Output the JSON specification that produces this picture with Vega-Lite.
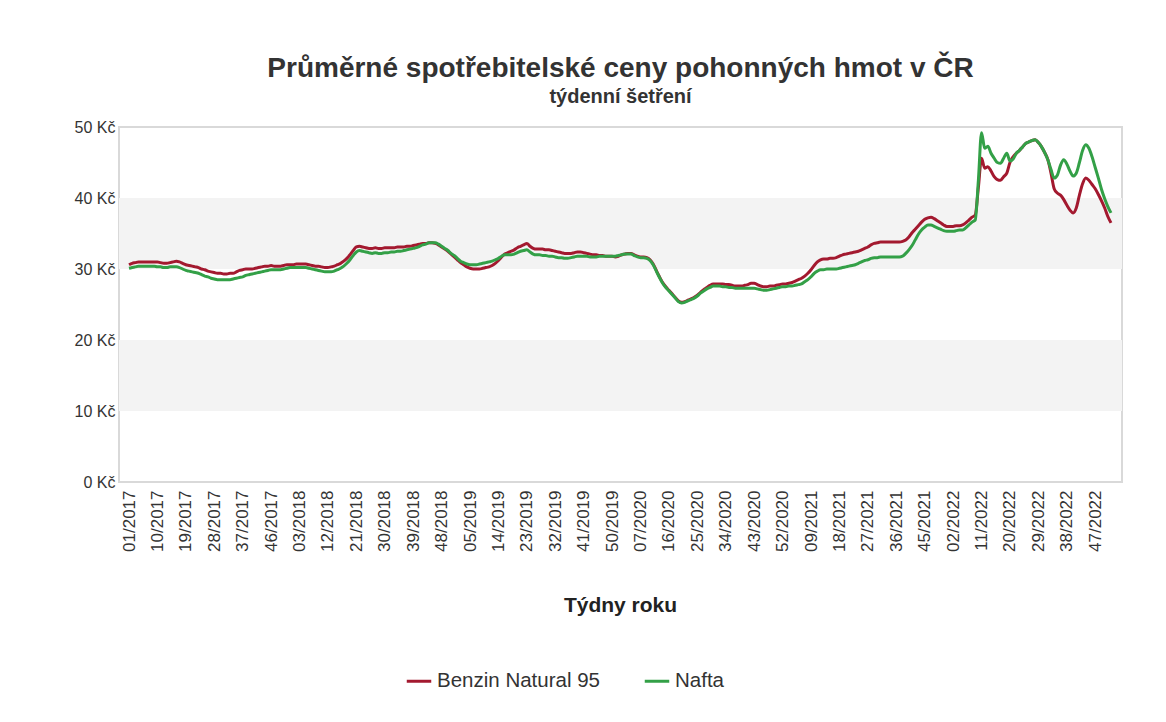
{
"$schema": "https://vega.github.io/schema/vega-lite/v6.json",
"width": 1003, "height": 355,
"autosize": {"type": "none"},
"padding": {"left": 119, "top": 127, "right": 44, "bottom": 240},
"background": "white",
"config": {"view": {"stroke": "#d9d9d9", "strokeWidth": 2}, "font": "Liberation Sans"},
"title": {"text": "Průměrné spotřebitelské ceny pohonných hmot v ČR", "subtitle": "týdenní šetření", "font": "Liberation Sans", "fontSize": 28, "fontWeight": "bold", "color": "#333333", "subtitleFont": "Liberation Sans", "subtitleFontSize": 20, "subtitleFontWeight": "bold", "subtitleColor": "#333333", "anchor": "middle", "offset": 12, "subtitlePadding": 4},
"layer": [
{"data": {"values": [{}]}, "mark": {"type": "rect", "color": "#f3f3f3"}, "encoding": {"y": {"datum": 10, "type": "quantitative", "scale": {"domain": [0, 50], "nice": false}, "axis": {"values": [0, 10, 20, 30, 40, 50], "labelExpr": "datum.value + ' Kč'", "title": null, "domain": false, "ticks": false, "gridColor": "#d9d9d9", "gridWidth": 2, "labelFontSize": 16, "labelColor": "#333333", "labelPadding": 4}}, "y2": {"datum": 20}}},
{"data": {"values": [{}]}, "mark": {"type": "rect", "color": "#f3f3f3"}, "encoding": {"y": {"datum": 30, "type": "quantitative", "scale": {"domain": [0, 50], "nice": false}, "axis": {"values": [0, 10, 20, 30, 40, 50], "labelExpr": "datum.value + ' Kč'", "title": null, "domain": false, "ticks": false, "gridColor": "#d9d9d9", "gridWidth": 2, "labelFontSize": 16, "labelColor": "#333333", "labelPadding": 4}}, "y2": {"datum": 40}}},
{"data": {"values": [
{"w":"01/2017","benzin":30.6,"nafta":30.1},{"w":"02/2017","benzin":30.8,"nafta":30.2},{"w":"03/2017","benzin":30.9,"nafta":30.3},{"w":"04/2017","benzin":31.0,"nafta":30.4},{"w":"05/2017","benzin":31.0,"nafta":30.4},{"w":"06/2017","benzin":31.0,"nafta":30.4},{"w":"07/2017","benzin":31.0,"nafta":30.4},{"w":"08/2017","benzin":31.0,"nafta":30.4},{"w":"09/2017","benzin":31.0,"nafta":30.4},{"w":"10/2017","benzin":31.0,"nafta":30.3},
{"w":"11/2017","benzin":30.9,"nafta":30.3},{"w":"12/2017","benzin":30.8,"nafta":30.2},{"w":"13/2017","benzin":30.8,"nafta":30.2},{"w":"14/2017","benzin":30.9,"nafta":30.3},{"w":"15/2017","benzin":31.0,"nafta":30.3},{"w":"16/2017","benzin":31.1,"nafta":30.3},{"w":"17/2017","benzin":31.0,"nafta":30.2},{"w":"18/2017","benzin":30.8,"nafta":30.0},{"w":"19/2017","benzin":30.6,"nafta":29.8},{"w":"20/2017","benzin":30.5,"nafta":29.7},
{"w":"21/2017","benzin":30.4,"nafta":29.6},{"w":"22/2017","benzin":30.3,"nafta":29.5},{"w":"23/2017","benzin":30.2,"nafta":29.4},{"w":"24/2017","benzin":30.0,"nafta":29.2},{"w":"25/2017","benzin":29.9,"nafta":29.0},{"w":"26/2017","benzin":29.7,"nafta":28.9},{"w":"27/2017","benzin":29.6,"nafta":28.7},{"w":"28/2017","benzin":29.5,"nafta":28.6},{"w":"29/2017","benzin":29.4,"nafta":28.5},{"w":"30/2017","benzin":29.4,"nafta":28.5},
{"w":"31/2017","benzin":29.3,"nafta":28.5},{"w":"32/2017","benzin":29.3,"nafta":28.5},{"w":"33/2017","benzin":29.4,"nafta":28.5},{"w":"34/2017","benzin":29.4,"nafta":28.6},{"w":"35/2017","benzin":29.6,"nafta":28.7},{"w":"36/2017","benzin":29.8,"nafta":28.8},{"w":"37/2017","benzin":29.9,"nafta":28.9},{"w":"38/2017","benzin":30.0,"nafta":29.1},{"w":"39/2017","benzin":30.0,"nafta":29.2},{"w":"40/2017","benzin":30.0,"nafta":29.3},
{"w":"41/2017","benzin":30.1,"nafta":29.4},{"w":"42/2017","benzin":30.2,"nafta":29.5},{"w":"43/2017","benzin":30.3,"nafta":29.6},{"w":"44/2017","benzin":30.4,"nafta":29.7},{"w":"45/2017","benzin":30.4,"nafta":29.8},{"w":"46/2017","benzin":30.5,"nafta":29.9},{"w":"47/2017","benzin":30.4,"nafta":29.9},{"w":"48/2017","benzin":30.4,"nafta":29.9},{"w":"49/2017","benzin":30.4,"nafta":29.9},{"w":"50/2017","benzin":30.5,"nafta":30.0},
{"w":"51/2017","benzin":30.6,"nafta":30.1},{"w":"52/2017","benzin":30.6,"nafta":30.2},
{"w":"01/2018","benzin":30.6,"nafta":30.2},{"w":"02/2018","benzin":30.7,"nafta":30.2},{"w":"03/2018","benzin":30.7,"nafta":30.2},{"w":"04/2018","benzin":30.7,"nafta":30.2},{"w":"05/2018","benzin":30.7,"nafta":30.2},{"w":"06/2018","benzin":30.6,"nafta":30.1},{"w":"07/2018","benzin":30.5,"nafta":30.0},{"w":"08/2018","benzin":30.4,"nafta":29.9},{"w":"09/2018","benzin":30.4,"nafta":29.8},{"w":"10/2018","benzin":30.3,"nafta":29.7},
{"w":"11/2018","benzin":30.2,"nafta":29.6},{"w":"12/2018","benzin":30.2,"nafta":29.6},{"w":"13/2018","benzin":30.3,"nafta":29.6},{"w":"14/2018","benzin":30.4,"nafta":29.7},{"w":"15/2018","benzin":30.6,"nafta":29.9},{"w":"16/2018","benzin":30.8,"nafta":30.1},{"w":"17/2018","benzin":31.1,"nafta":30.4},{"w":"18/2018","benzin":31.5,"nafta":30.8},{"w":"19/2018","benzin":32.0,"nafta":31.3},{"w":"20/2018","benzin":32.6,"nafta":31.9},
{"w":"21/2018","benzin":33.1,"nafta":32.4},{"w":"22/2018","benzin":33.2,"nafta":32.6},{"w":"23/2018","benzin":33.1,"nafta":32.5},{"w":"24/2018","benzin":33.0,"nafta":32.4},{"w":"25/2018","benzin":32.9,"nafta":32.3},{"w":"26/2018","benzin":32.9,"nafta":32.2},{"w":"27/2018","benzin":33.0,"nafta":32.3},{"w":"28/2018","benzin":32.9,"nafta":32.2},{"w":"29/2018","benzin":32.9,"nafta":32.2},{"w":"30/2018","benzin":33.0,"nafta":32.3},
{"w":"31/2018","benzin":33.0,"nafta":32.3},{"w":"32/2018","benzin":33.0,"nafta":32.4},{"w":"33/2018","benzin":33.0,"nafta":32.4},{"w":"34/2018","benzin":33.1,"nafta":32.5},{"w":"35/2018","benzin":33.1,"nafta":32.5},{"w":"36/2018","benzin":33.1,"nafta":32.6},{"w":"37/2018","benzin":33.2,"nafta":32.7},{"w":"38/2018","benzin":33.2,"nafta":32.8},{"w":"39/2018","benzin":33.3,"nafta":32.9},{"w":"40/2018","benzin":33.4,"nafta":33.0},
{"w":"41/2018","benzin":33.5,"nafta":33.2},{"w":"42/2018","benzin":33.6,"nafta":33.4},{"w":"43/2018","benzin":33.6,"nafta":33.5},{"w":"44/2018","benzin":33.7,"nafta":33.7},{"w":"45/2018","benzin":33.7,"nafta":33.7},{"w":"46/2018","benzin":33.6,"nafta":33.7},{"w":"47/2018","benzin":33.4,"nafta":33.5},{"w":"48/2018","benzin":33.1,"nafta":33.2},{"w":"49/2018","benzin":32.8,"nafta":32.9},{"w":"50/2018","benzin":32.5,"nafta":32.6},
{"w":"51/2018","benzin":32.1,"nafta":32.2},{"w":"52/2018","benzin":31.7,"nafta":31.9},
{"w":"01/2019","benzin":31.3,"nafta":31.5},{"w":"02/2019","benzin":30.9,"nafta":31.1},{"w":"03/2019","benzin":30.6,"nafta":30.9},{"w":"04/2019","benzin":30.3,"nafta":30.7},{"w":"05/2019","benzin":30.1,"nafta":30.6},{"w":"06/2019","benzin":30.0,"nafta":30.6},{"w":"07/2019","benzin":30.0,"nafta":30.6},{"w":"08/2019","benzin":30.0,"nafta":30.7},{"w":"09/2019","benzin":30.1,"nafta":30.8},{"w":"10/2019","benzin":30.2,"nafta":30.9},
{"w":"11/2019","benzin":30.3,"nafta":31.0},{"w":"12/2019","benzin":30.5,"nafta":31.1},{"w":"13/2019","benzin":30.8,"nafta":31.3},{"w":"14/2019","benzin":31.2,"nafta":31.5},{"w":"15/2019","benzin":31.7,"nafta":31.8},{"w":"16/2019","benzin":32.1,"nafta":32.0},{"w":"17/2019","benzin":32.3,"nafta":32.0},{"w":"18/2019","benzin":32.5,"nafta":32.0},{"w":"19/2019","benzin":32.7,"nafta":32.1},{"w":"20/2019","benzin":33.0,"nafta":32.3},
{"w":"21/2019","benzin":33.2,"nafta":32.5},{"w":"22/2019","benzin":33.4,"nafta":32.6},{"w":"23/2019","benzin":33.6,"nafta":32.7},{"w":"24/2019","benzin":33.2,"nafta":32.4},{"w":"25/2019","benzin":32.9,"nafta":32.1},{"w":"26/2019","benzin":32.8,"nafta":32.0},{"w":"27/2019","benzin":32.8,"nafta":32.0},{"w":"28/2019","benzin":32.8,"nafta":31.9},{"w":"29/2019","benzin":32.7,"nafta":31.9},{"w":"30/2019","benzin":32.7,"nafta":31.8},
{"w":"31/2019","benzin":32.6,"nafta":31.8},{"w":"32/2019","benzin":32.5,"nafta":31.7},{"w":"33/2019","benzin":32.4,"nafta":31.6},{"w":"34/2019","benzin":32.3,"nafta":31.6},{"w":"35/2019","benzin":32.2,"nafta":31.5},{"w":"36/2019","benzin":32.2,"nafta":31.5},{"w":"37/2019","benzin":32.2,"nafta":31.6},{"w":"38/2019","benzin":32.3,"nafta":31.7},{"w":"39/2019","benzin":32.4,"nafta":31.8},{"w":"40/2019","benzin":32.4,"nafta":31.8},
{"w":"41/2019","benzin":32.3,"nafta":31.8},{"w":"42/2019","benzin":32.2,"nafta":31.8},{"w":"43/2019","benzin":32.1,"nafta":31.7},{"w":"44/2019","benzin":32.0,"nafta":31.7},{"w":"45/2019","benzin":32.0,"nafta":31.7},{"w":"46/2019","benzin":31.9,"nafta":31.8},{"w":"47/2019","benzin":31.9,"nafta":31.8},{"w":"48/2019","benzin":31.8,"nafta":31.8},{"w":"49/2019","benzin":31.8,"nafta":31.8},{"w":"50/2019","benzin":31.8,"nafta":31.8},
{"w":"51/2019","benzin":31.7,"nafta":31.8},{"w":"52/2019","benzin":31.8,"nafta":31.9},
{"w":"01/2020","benzin":32.0,"nafta":32.0},{"w":"02/2020","benzin":32.1,"nafta":32.1},{"w":"03/2020","benzin":32.2,"nafta":32.1},{"w":"04/2020","benzin":32.2,"nafta":32.1},{"w":"05/2020","benzin":32.0,"nafta":31.9},{"w":"06/2020","benzin":31.8,"nafta":31.7},{"w":"07/2020","benzin":31.7,"nafta":31.6},{"w":"08/2020","benzin":31.7,"nafta":31.6},{"w":"09/2020","benzin":31.6,"nafta":31.5},{"w":"10/2020","benzin":31.3,"nafta":31.2},
{"w":"11/2020","benzin":30.7,"nafta":30.6},{"w":"12/2020","benzin":29.8,"nafta":29.7},{"w":"13/2020","benzin":28.9,"nafta":28.8},{"w":"14/2020","benzin":28.1,"nafta":28.0},{"w":"15/2020","benzin":27.5,"nafta":27.4},{"w":"16/2020","benzin":27.0,"nafta":26.9},{"w":"17/2020","benzin":26.5,"nafta":26.4},{"w":"18/2020","benzin":26.0,"nafta":25.9},{"w":"19/2020","benzin":25.5,"nafta":25.4},{"w":"20/2020","benzin":25.3,"nafta":25.2},
{"w":"21/2020","benzin":25.4,"nafta":25.3},{"w":"22/2020","benzin":25.6,"nafta":25.5},{"w":"23/2020","benzin":25.8,"nafta":25.7},{"w":"24/2020","benzin":26.0,"nafta":25.9},{"w":"25/2020","benzin":26.3,"nafta":26.2},{"w":"26/2020","benzin":26.7,"nafta":26.6},{"w":"27/2020","benzin":27.1,"nafta":26.9},{"w":"28/2020","benzin":27.4,"nafta":27.2},{"w":"29/2020","benzin":27.7,"nafta":27.4},{"w":"30/2020","benzin":27.9,"nafta":27.6},
{"w":"31/2020","benzin":27.9,"nafta":27.6},{"w":"32/2020","benzin":27.9,"nafta":27.6},{"w":"33/2020","benzin":27.9,"nafta":27.5},{"w":"34/2020","benzin":27.8,"nafta":27.5},{"w":"35/2020","benzin":27.8,"nafta":27.4},{"w":"36/2020","benzin":27.7,"nafta":27.4},{"w":"37/2020","benzin":27.6,"nafta":27.3},{"w":"38/2020","benzin":27.6,"nafta":27.3},{"w":"39/2020","benzin":27.6,"nafta":27.3},{"w":"40/2020","benzin":27.7,"nafta":27.3},
{"w":"41/2020","benzin":27.8,"nafta":27.3},{"w":"42/2020","benzin":28.0,"nafta":27.3},{"w":"43/2020","benzin":28.0,"nafta":27.3},{"w":"44/2020","benzin":27.8,"nafta":27.2},{"w":"45/2020","benzin":27.6,"nafta":27.1},{"w":"46/2020","benzin":27.5,"nafta":27.0},{"w":"47/2020","benzin":27.5,"nafta":27.0},{"w":"48/2020","benzin":27.6,"nafta":27.1},{"w":"49/2020","benzin":27.6,"nafta":27.2},{"w":"50/2020","benzin":27.7,"nafta":27.3},
{"w":"51/2020","benzin":27.8,"nafta":27.4},{"w":"52/2020","benzin":27.9,"nafta":27.5},
{"w":"01/2021","benzin":27.9,"nafta":27.5},{"w":"02/2021","benzin":28.0,"nafta":27.6},{"w":"03/2021","benzin":28.1,"nafta":27.6},{"w":"04/2021","benzin":28.3,"nafta":27.7},{"w":"05/2021","benzin":28.5,"nafta":27.8},{"w":"06/2021","benzin":28.7,"nafta":27.9},{"w":"07/2021","benzin":29.0,"nafta":28.2},{"w":"08/2021","benzin":29.4,"nafta":28.5},{"w":"09/2021","benzin":29.9,"nafta":28.9},{"w":"10/2021","benzin":30.5,"nafta":29.4},
{"w":"11/2021","benzin":31.0,"nafta":29.7},{"w":"12/2021","benzin":31.3,"nafta":29.9},{"w":"13/2021","benzin":31.4,"nafta":29.9},{"w":"14/2021","benzin":31.4,"nafta":30.0},{"w":"15/2021","benzin":31.5,"nafta":30.0},{"w":"16/2021","benzin":31.5,"nafta":30.0},{"w":"17/2021","benzin":31.6,"nafta":30.0},{"w":"18/2021","benzin":31.8,"nafta":30.1},{"w":"19/2021","benzin":32.0,"nafta":30.2},{"w":"20/2021","benzin":32.1,"nafta":30.3},
{"w":"21/2021","benzin":32.2,"nafta":30.4},{"w":"22/2021","benzin":32.3,"nafta":30.5},{"w":"23/2021","benzin":32.4,"nafta":30.6},{"w":"24/2021","benzin":32.5,"nafta":30.8},{"w":"25/2021","benzin":32.7,"nafta":31.0},{"w":"26/2021","benzin":32.9,"nafta":31.2},{"w":"27/2021","benzin":33.1,"nafta":31.3},{"w":"28/2021","benzin":33.4,"nafta":31.5},{"w":"29/2021","benzin":33.6,"nafta":31.6},{"w":"30/2021","benzin":33.7,"nafta":31.6},
{"w":"31/2021","benzin":33.8,"nafta":31.7},{"w":"32/2021","benzin":33.8,"nafta":31.7},{"w":"33/2021","benzin":33.8,"nafta":31.7},{"w":"34/2021","benzin":33.8,"nafta":31.7},{"w":"35/2021","benzin":33.8,"nafta":31.7},{"w":"36/2021","benzin":33.8,"nafta":31.7},{"w":"37/2021","benzin":33.8,"nafta":31.7},{"w":"38/2021","benzin":33.9,"nafta":31.8},{"w":"39/2021","benzin":34.1,"nafta":32.2},{"w":"40/2021","benzin":34.5,"nafta":32.7},
{"w":"41/2021","benzin":35.1,"nafta":33.3},{"w":"42/2021","benzin":35.6,"nafta":34.1},{"w":"43/2021","benzin":36.1,"nafta":34.9},{"w":"44/2021","benzin":36.6,"nafta":35.5},{"w":"45/2021","benzin":37.0,"nafta":35.9},{"w":"46/2021","benzin":37.2,"nafta":36.2},{"w":"47/2021","benzin":37.3,"nafta":36.2},{"w":"48/2021","benzin":37.1,"nafta":36.0},{"w":"49/2021","benzin":36.8,"nafta":35.8},{"w":"50/2021","benzin":36.5,"nafta":35.6},
{"w":"51/2021","benzin":36.2,"nafta":35.4},{"w":"52/2021","benzin":36.0,"nafta":35.3},
{"w":"01/2022","benzin":36.0,"nafta":35.3},{"w":"02/2022","benzin":36.0,"nafta":35.3},{"w":"03/2022","benzin":36.1,"nafta":35.4},{"w":"04/2022","benzin":36.1,"nafta":35.5},{"w":"05/2022","benzin":36.2,"nafta":35.5},{"w":"06/2022","benzin":36.5,"nafta":35.8},{"w":"07/2022","benzin":36.9,"nafta":36.2},{"w":"08/2022","benzin":37.3,"nafta":36.6},{"w":"09/2022","benzin":37.6,"nafta":36.9},{"w":"10/2022","benzin":41.5,"nafta":42.5},
{"w":"11/2022","benzin":45.6,"nafta":49.2},{"w":"12/2022","benzin":44.2,"nafta":47.0},{"w":"13/2022","benzin":44.4,"nafta":47.3},{"w":"14/2022","benzin":43.8,"nafta":46.3},{"w":"15/2022","benzin":43.0,"nafta":45.6},{"w":"16/2022","benzin":42.6,"nafta":45.0},{"w":"17/2022","benzin":42.5,"nafta":44.9},{"w":"18/2022","benzin":43.0,"nafta":45.6},{"w":"19/2022","benzin":43.5,"nafta":46.3},{"w":"20/2022","benzin":45.0,"nafta":45.2},
{"w":"21/2022","benzin":45.8,"nafta":45.5},{"w":"22/2022","benzin":46.3,"nafta":46.3},{"w":"23/2022","benzin":46.7,"nafta":46.7},{"w":"24/2022","benzin":47.2,"nafta":47.2},{"w":"25/2022","benzin":47.7,"nafta":47.7},{"w":"26/2022","benzin":47.9,"nafta":47.9},{"w":"27/2022","benzin":48.1,"nafta":48.1},{"w":"28/2022","benzin":48.2,"nafta":48.2},{"w":"29/2022","benzin":47.8,"nafta":47.8},{"w":"30/2022","benzin":47.2,"nafta":47.2},
{"w":"31/2022","benzin":46.4,"nafta":46.4},{"w":"32/2022","benzin":45.4,"nafta":45.4},{"w":"33/2022","benzin":43.5,"nafta":44.0},{"w":"34/2022","benzin":41.3,"nafta":42.8},{"w":"35/2022","benzin":40.7,"nafta":43.2},{"w":"36/2022","benzin":40.4,"nafta":44.6},{"w":"37/2022","benzin":39.8,"nafta":45.4},{"w":"38/2022","benzin":39.0,"nafta":44.8},{"w":"39/2022","benzin":38.3,"nafta":43.8},{"w":"40/2022","benzin":37.9,"nafta":43.1},
{"w":"41/2022","benzin":38.6,"nafta":43.5},{"w":"42/2022","benzin":40.4,"nafta":45.0},{"w":"43/2022","benzin":42.0,"nafta":46.7},{"w":"44/2022","benzin":42.8,"nafta":47.5},{"w":"45/2022","benzin":42.5,"nafta":47.0},{"w":"46/2022","benzin":41.9,"nafta":45.8},{"w":"47/2022","benzin":41.3,"nafta":44.3},{"w":"48/2022","benzin":40.5,"nafta":42.8},{"w":"49/2022","benzin":39.6,"nafta":41.2},{"w":"50/2022","benzin":38.6,"nafta":39.9},
{"w":"51/2022","benzin":37.4,"nafta":38.8},{"w":"52/2022","benzin":36.5,"nafta":37.9}
]},
"transform": [{"fold": ["benzin", "nafta"], "as": ["serie", "cena"]}],
"mark": {"type": "line", "strokeWidth": 3, "interpolate": "monotone"},
"encoding": {
"x": {"field": "w", "type": "ordinal", "sort": null, "scale": {"type": "point", "padding": 0, "range": [10, 992]},
 "axis": {"values": ["01/2017","10/2017","19/2017","28/2017","37/2017","46/2017","03/2018","12/2018","21/2018","30/2018","39/2018","48/2018","05/2019","14/2019","23/2019","32/2019","41/2019","50/2019","07/2020","16/2020","25/2020","34/2020","43/2020","52/2020","09/2021","18/2021","27/2021","36/2021","45/2021","02/2022","11/2022","20/2022","29/2022","38/2022","47/2022"],
  "labelAngle": -90, "labelFontSize": 17, "labelColor": "#333333", "ticks": false, "domain": false, "grid": false, "labelPadding": 8,
  "title": "Týdny roku", "titleFontSize": 21, "titleFontWeight": "bold", "titleColor": "#222222", "titlePadding": 43}},
"y": {"field": "cena", "type": "quantitative", "scale": {"domain": [0, 50], "nice": false},
 "axis": {"values": [0, 10, 20, 30, 40, 50], "labelExpr": "datum.value + ' Kč'", "title": null, "domain": false, "ticks": false, "gridColor": "#d9d9d9", "gridWidth": 2, "labelFontSize": 16, "labelColor": "#333333", "labelPadding": 4}},
"color": {"field": "serie", "type": "nominal", "scale": {"domain": ["benzin", "nafta"], "range": ["#a3192f", "#33a047"]},
 "legend": {"title": null, "orient": "none", "legendX": 286, "legendY": 540, "direction": "horizontal", "symbolType": "stroke", "symbolStrokeWidth": 3, "symbolSize": 600, "labelFontSize": 20.5, "labelLimit": 400, "labelColor": "#333333", "columnPadding": 38, "labelExpr": "datum.label == 'benzin' ? 'Benzin Natural 95' : 'Nafta'"}}
}}
]
}
